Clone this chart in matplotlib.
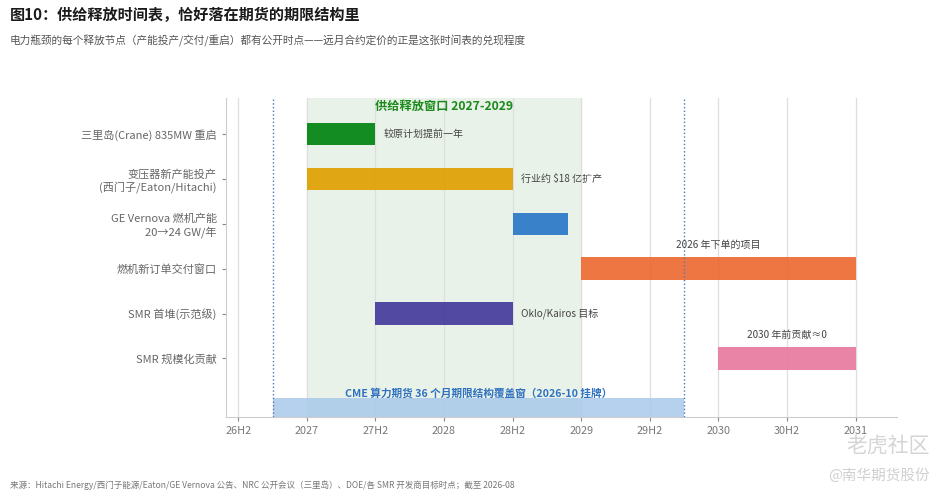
import matplotlib
matplotlib.use("Agg")
import matplotlib.pyplot as plt

plt.rcParams['font.family'] = ['Noto Sans CJK SC', 'DejaVu Sans']

# ---- data ----
tasks = ["三里岛(Crane) 835MW 重启",
         "变压器新产能投产\n(西门子/Eaton/Hitachi)",
         "GE Vernova 燃机产能\n20→24 GW/年",
         "燃机新订单交付窗口",
         "SMR 首堆(示范级)",
         "SMR 规模化贡献"]
starts = [2027.0, 2027.0, 2028.5, 2029.0, 2027.5, 2030.0]
ends = [2027.5, 2028.5, 2028.9, 2031.0, 2028.5, 2031.0]
bar_colors = ["#008510", "#e0a000", "#2a78c6", "#ec6a33", "#443a9c", "#e87aa0"]
notes = ["较原计划提前一年", "行业约 $18 亿扩产", "", "2026 年下单的项目", "Oklo/Kairos 目标", "2030 年前贡献≈0"]
note_above = [False, False, False, True, False, True]

tick_pos = [2026.5, 2027.0, 2027.5, 2028.0, 2028.5, 2029.0, 2029.5, 2030.0, 2030.5, 2031.0]
tick_labels = ["26H2", "2027", "27H2", "2028", "28H2", "2029", "29H2", "2030", "30H2", "2031"]

window_start, window_end = 2027.0, 2029.0
cme_start, cme_end = 2026.75, 2029.75

fig = plt.figure(figsize=(9.45, 4.96), dpi=100)
fig.patch.set_facecolor("white")
ax = fig.add_axes([0.239, 0.159, 0.710, 0.643])

# supply window shading
ax.axvspan(window_start, window_end, color="#e9f2e9", zorder=0)
ax.text((window_start + window_end) / 2, -0.62, "供给释放窗口 2027-2029", ha="center", va="center",
        color="#1a8a1a", fontsize=8.8, fontweight="bold", zorder=5)

# grid
ax.set_xticks(tick_pos)
ax.set_xticklabels(tick_labels)
ax.grid(axis="x", color="#dedede", linewidth=0.9, zorder=1)
ax.set_axisbelow(True)

# bars
ypos = list(range(len(tasks)))
ax.barh(ypos, [e - s for s, e in zip(starts, ends)], left=starts, height=0.5,
        color=bar_colors, alpha=0.92, zorder=2)

for y, s, e, n, above in zip(ypos, starts, ends, notes, note_above):
    if not n:
        continue
    if above:
        ax.text((s + e) / 2, y - 0.52, n, ha="center", va="center", fontsize=7.2, color="#444444", zorder=5)
    else:
        ax.text(e + 0.06, y, n, ha="left", va="center", fontsize=7.2, color="#444444", zorder=5)

# CME coverage bar
cme_y = 6.1
ax.barh([cme_y], [cme_end - cme_start], left=[cme_start], height=0.45, color="#a9c9ea", alpha=0.85, zorder=2)
ax.text((cme_start + cme_end) / 2, 5.78, "CME 算力期货 36 个月期限结构覆盖窗（2026-10 挂牌）", ha="center", va="center",
        color="#2f72c0", fontsize=7.7, fontweight="bold", zorder=5)
for xv in (cme_start, cme_end):
    ax.axvline(xv, color="#4a78b8", linestyle=":", linewidth=1.0, zorder=3)

ax.set_yticks(ypos)
ax.set_yticklabels(tasks, fontsize=8, color="#666666", multialignment="right")
ax.set_xlim(2026.41, 2031.3)
ax.set_ylim(6.31, -0.8)
ax.tick_params(axis="x", labelsize=7.8, colors="#888888", labelcolor="#777777", length=3)
ax.tick_params(axis="y", colors="#888888", labelcolor="#666666", length=3)
for sp in ("top", "right"):
    ax.spines[sp].set_visible(False)
for sp in ("left", "bottom"):
    ax.spines[sp].set_color("#cccccc")

# titles
fig.text(10 / 945, 1 - 15 / 496, "图10：供给释放时间表，恰好落在期货的期限结构里", ha="left", va="center",
         fontsize=10.9, fontweight="bold", color="#1a1a1a")
fig.text(10 / 945, 1 - 41 / 496, "电力瓶颈的每个释放节点（产能投产/交付/重启）都有公开时点——远月合约定价的正是这张时间表的兑现程度",
         ha="left", va="center", fontsize=7.7, color="#555555")
fig.text(10 / 945, 1 - 485 / 496,
         "来源：Hitachi Energy/西门子能源/Eaton/GE Vernova 公告、NRC 公开会议（三里岛）、DOE/各 SMR 开发商目标时点；截至 2026-08",
         ha="left", va="center", fontsize=6.15, color="#777777")

# watermark
fig.text(930 / 945, 1 - 446 / 496, "老虎社区", ha="right", va="center", fontsize=15, color="#d5d5d5")
fig.text(930 / 945, 1 - 475 / 496, "@南华期货股份", ha="right", va="center", fontsize=10.5, color="#d0d0d0")

fig.savefig("out.png", dpi=100, facecolor="white")
